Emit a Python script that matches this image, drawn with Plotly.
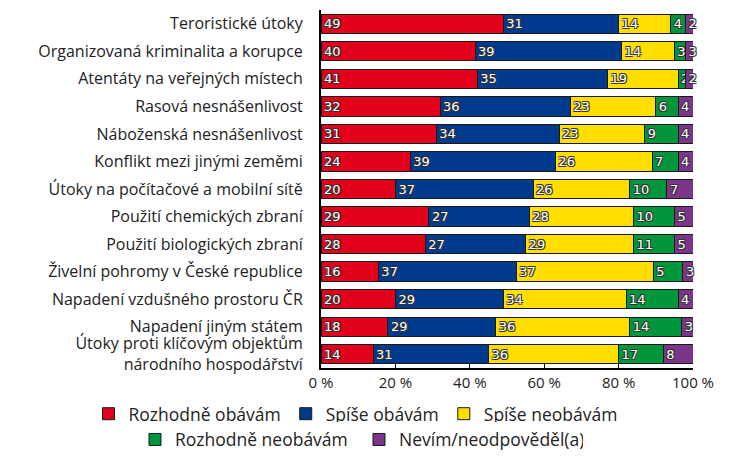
import plotly.graph_objects as go

categories = [
    "Teroristické útoky",
    "Organizovaná kriminalita a korupce",
    "Atentáty na veřejných místech",
    "Rasová nesnášenlivost",
    "Náboženská nesnášenlivost",
    "Konflikt mezi jinými zeměmi",
    "Útoky na počítačové a mobilní sítě",
    "Použití chemických zbraní",
    "Použití biologických zbraní",
    "Živelní pohromy v České republice",
    "Napadení vzdušného prostoru ČR",
    "Napadení jiným státem",
    "Útoky proti klíčovým objektům<br>národního hospodářství",
]

series_names = ["Rozhodně obávám", "Spíše obávám", "Spíše neobávám",
                "Rozhodně neobávám", "Nevím/neodpověděl(a)"]

# bar lengths as drawn (percent)
rozhodne_obavam = [49, 41, 42, 32, 31, 24, 20, 29, 28, 15.4, 20, 18, 14]
spise_obavam = [31, 39, 35, 35, 33, 39, 37, 27, 27, 37, 29, 29, 31]
spise_neobavam = [14, 14, 19, 23, 23, 26, 26, 28, 29, 36.8, 33, 36, 35]
rozhodne_neobavam = [4, 3, 2, 6, 9, 7, 10, 11, 11, 8, 14, 14, 12]
nevim = [2, 2, 2, 4, 4, 4, 7, 5, 5, 2.7, 4, 3, 8]

# printed labels
lab_rozhodne_obavam = [49, 40, 41, 32, 31, 24, 20, 29, 28, 16, 20, 18, 14]
lab_spise_obavam = [31, 39, 35, 36, 34, 39, 37, 27, 27, 37, 29, 29, 31]
lab_spise_neobavam = [14, 14, 19, 23, 23, 26, 26, 28, 29, 37, 34, 36, 36]
lab_rozhodne_neobavam = [4, 3, 2, 6, 9, 7, 10, 10, 11, 5, 14, 14, 17]
lab_nevim = [2, 3, 2, 4, 4, 4, 7, 5, 5, 3, 4, 3, 8]

x_ticks = [0, 20, 40, 60, 80, 100]
x_tick_labels = ["0 %", "20 %", "40 %", "60 %", "80 %", "100 %"]

colors = ["#E2001A", "#003A8C", "#FFDE00", "#00963C", "#7B3589"]

values = [rozhodne_obavam, spise_obavam, spise_neobavam, rozhodne_neobavam, nevim]
labels = [lab_rozhodne_obavam, lab_spise_obavam, lab_spise_neobavam,
          lab_rozhodne_neobavam, lab_nevim]

shadow = "-1px -1px 0 #333, 1px -1px 0 #333, -1px 1px 0 #333, 1px 1px 0 #333"

fig = go.Figure()
for i, (name, vals, labs, col) in enumerate(zip(series_names, values, labels, colors)):
    fig.add_trace(go.Bar(
        y=categories, x=vals, name=name, orientation="h",
        marker=dict(color=col, line=dict(color="#1a1a1a", width=1)),
        text=[str(v) for v in labs], textposition="inside",
        insidetextanchor="start", constraintext="none", textangle=0,
        cliponaxis=False,
        textfont=dict(family="DejaVu Sans", size=13, color="white", shadow=shadow),
        legend="legend" if i < 3 else "legend2",
        hoverinfo="skip",
    ))

fig.update_layout(
    barmode="stack",
    barnorm="percent",
    bargap=0.3,
    width=741, height=456,
    margin=dict(l=321, r=48, t=10, b=88, autoexpand=False),
    plot_bgcolor="white", paper_bgcolor="white",
    font=dict(family="Open Sans", size=16, color="#222"),
    xaxis=dict(range=[0, 100], tickmode="array", tickvals=x_ticks,
               ticktext=x_tick_labels, showgrid=False, zeroline=False,
               showline=True, linecolor="black", linewidth=2,
               ticks="inside", ticklen=4, tickcolor="black",
               tickfont=dict(size=15, color="#222")),
    yaxis=dict(autorange="reversed", showgrid=False, showline=True,
               linecolor="black", linewidth=2, ticks="",
               ticklabelstandoff=13, tickfont=dict(size=16, color="#222")),
    legend=dict(orientation="h", xref="paper", yref="paper",
                x=-0.625, y=-0.128, xanchor="left", yanchor="middle",
                traceorder="normal",
                font=dict(size=17.5, color="#222"), itemwidth=30),
    legend2=dict(orientation="h", xref="paper", yref="paper",
                 x=-0.5, y=-0.2, xanchor="left", yanchor="middle",
                 traceorder="normal", entrywidth=179,
                 font=dict(size=17.5, color="#222"), itemwidth=30),
    showlegend=True,
)

fig.write_html("out.html", post_script="document.body.style.margin='0';",
               config={"displayModeBar": False})
